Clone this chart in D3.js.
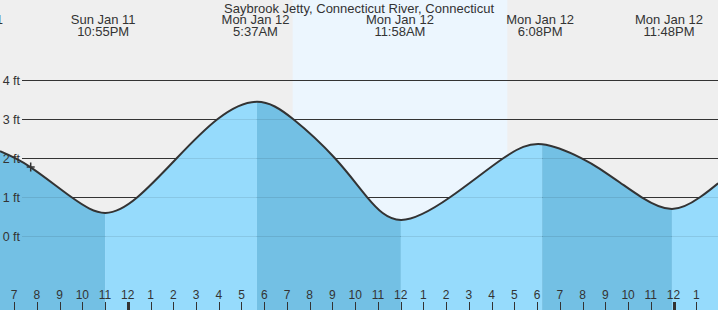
<!DOCTYPE html>
<html><head><meta charset="utf-8">
<script src="https://cdn.jsdelivr.net/npm/d3@7"></script>
<style>
body{margin:0;background:#fff}
svg{display:block}
text{font-family:"Liberation Sans",Arial,sans-serif;fill:#333}
</style>
</head><body>
<svg id="chart" width="718" height="310"></svg>
<script>
// ---- data ----
const title = "Saybrook Jetty, Connecticut River, Connecticut";
const eventDates = ["Sun Jan 11", "Sun Jan 11", "Mon Jan 12", "Mon Jan 12", "Mon Jan 12", "Mon Jan 12"];
const eventTimes = ["5:05PM", "10:55PM", "5:37AM", "11:58AM", "6:08PM", "11:48PM"];
// hours relative to midnight starting Mon Jan 12
const eventHours = [-6.92, -1.083, 5.617, 11.967, 18.133, 23.8];
const curveHours = [-5.62, -4.30, -2.47, -1.0, 0.42, 2.15, 3.94, 5.68, 7.28, 9.11, 10.53, 12.01, 14.17, 16.51, 18.22, 19.96, 20.76, 21.64, 22.60, 23.93, 25.16, 25.96];
const curveFeet  = [2.18, 1.78, 1.0, 0.6, 1.0, 2.0, 3.0, 3.45, 3.0, 2.0, 1.0, 0.42, 1.0, 2.0, 2.36, 2.0, 1.73, 1.38, 1.0, 0.7, 1.0, 1.36];
const bandBreaks = [-1.0, 5.68, 12.01, 18.22, 23.93];
const firstBandFalling = true;
const daylight = [7.25, 16.69];
const yTicks = [0, 1, 2, 3, 4];
const hourTicks = d3.range(-5, 26);
const nowHour = -4.27, nowFeet = 1.78;
const timeDomain = [-5.62, 25.955];

// ---- layout ----
const W = 718, H = 310;
const svg = d3.select("#chart");
const x = d3.scaleLinear().domain(timeDomain).range([0, W]);
const y = d3.scaleLinear().domain([0, 4]).range([236.3, 80.3]);

// background
svg.append("rect").attr("x", 0).attr("y", 0).attr("width", W).attr("height", H).attr("fill", "#efefef");
svg.append("rect").attr("x", x(daylight[0])).attr("y", 0)
  .attr("width", x(daylight[1]) - x(daylight[0])).attr("height", H).attr("fill", "#ecf6fe");

// grid lines
const gridX0 = 22;
svg.append("g").selectAll("line").data(yTicks).join("line")
  .attr("x1", gridX0).attr("x2", W)
  .attr("y1", d => Math.round(y(d)) + 0.5).attr("y2", d => Math.round(y(d)) + 0.5)
  .attr("stroke", "#333").attr("stroke-width", 1);

// water
const pts = curveHours.map((h, i) => [h, curveFeet[i]]);
const crv = d3.curveNatural;
const area = d3.area().x(d => x(d[0])).y0(H).y1(d => y(d[1])).curve(crv);
const line = d3.line().x(d => x(d[0])).y(d => y(d[1])).curve(crv);
svg.append("clipPath").attr("id", "water").append("path").attr("d", area(pts));
const wg = svg.append("g").attr("clip-path", "url(#water)");
const edges = [timeDomain[0], ...bandBreaks, timeDomain[1]];
const bands = d3.range(edges.length - 1).map(i => ({a: edges[i], b: edges[i + 1], falling: (i % 2 === 0) === firstBandFalling}));
wg.selectAll("rect").data(bands).join("rect")
  .attr("x", d => x(d.a)).attr("width", d => x(d.b) - x(d.a))
  .attr("y", 0).attr("height", H)
  .attr("fill", d => d.falling ? "#73c0e4" : "#96dbfc");
wg.append("g").selectAll("line").data(yTicks).join("line")
  .attr("x1", gridX0).attr("x2", W)
  .attr("y1", d => Math.round(y(d)) + 0.5).attr("y2", d => Math.round(y(d)) + 0.5)
  .attr("stroke", "#000").attr("stroke-opacity", 0.09);

// tide curve
svg.append("path").attr("d", line(pts)).attr("fill", "none")
  .attr("stroke", "#333").attr("stroke-width", 2);

// y labels
svg.append("g").selectAll("text").data(yTicks).join("text")
  .attr("x", 20).attr("y", d => y(d)).attr("dy", "0.36em")
  .attr("text-anchor", "end").attr("font-size", 12.5)
  .text(d => d + " ft");

// current time marker
svg.append("path")
  .attr("d", `M${x(nowHour) - 4},${y(nowFeet)}H${x(nowHour) + 4}M${x(nowHour)},${y(nowFeet) - 4.5}V${y(nowFeet) + 4.5}`)
  .attr("stroke", "#333").attr("stroke-width", 1.5).attr("fill", "none");

// title and event labels
svg.append("text").attr("x", W / 2).attr("y", 12.5).attr("text-anchor", "middle")
  .attr("font-size", 13).text(title);
const ev = svg.append("g").selectAll("g").data(eventHours).join("g");
ev.append("text").attr("x", d => x(d)).attr("y", 24).attr("text-anchor", "middle")
  .attr("font-size", 13).text((d, i) => eventDates[i]);
ev.append("text").attr("x", d => x(d)).attr("y", 36).attr("text-anchor", "middle")
  .attr("font-size", 13).text((d, i) => eventTimes[i]);

// hour axis
const hourLabel = h => { const m = ((h % 12) + 12) % 12; return m === 0 ? "12" : String(m); };
const isMidnight = h => ((h % 24) + 24) % 24 === 0;
svg.append("g").selectAll("line").data(hourTicks).join("line")
  .attr("x1", d => Math.round(x(d)) + 0.5).attr("x2", d => Math.round(x(d)) + 0.5)
  .attr("y1", 302).attr("y2", H)
  .attr("stroke", "#333").attr("stroke-width", d => isMidnight(d) ? 3 : 1);
svg.append("g").selectAll("text").data(hourTicks).join("text")
  .attr("x", d => x(d)).attr("y", 299).attr("text-anchor", "middle")
  .attr("font-size", 12).text(hourLabel);
</script>
</body></html>
